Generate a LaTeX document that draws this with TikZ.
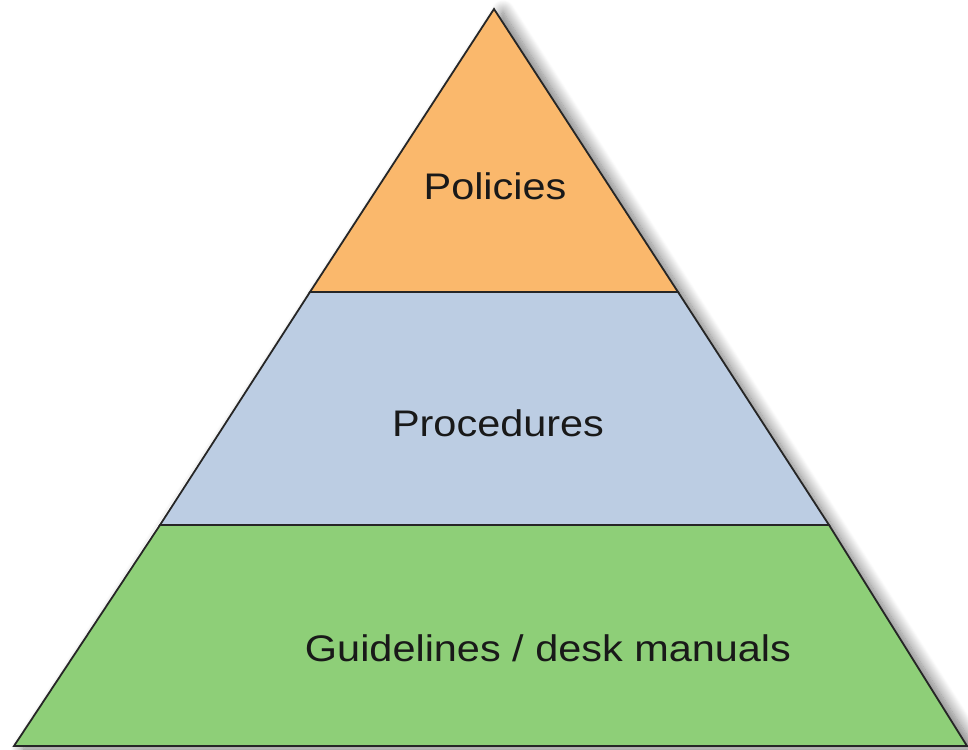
\documentclass[tikz,border=0pt]{standalone}
\usepackage{fontspec}
\setmainfont{Liberation Sans}
\usetikzlibrary{shadows.blur}
\definecolor{tierorange}{HTML}{FAB86C}
\definecolor{tierblue}{HTML}{BCCDE3}
\definecolor{tiergreen}{HTML}{8ECF78}
\begin{document}
\begin{tikzpicture}[x=1pt,y=-1pt,
  tier/.style={draw=black!85,line width=1.8pt,line join=miter},
  lbl/.style={font=\fontsize{37}{42}\selectfont,text=black!90,inner sep=0pt,xscale=1.12}]
\useasboundingbox (0,0) rectangle (968,749);
\coordinate (A) at (494,9);
\coordinate (BL) at (14,746);
\coordinate (BR) at (967,746);
\coordinate (L1) at (310,292);
\coordinate (R1) at (678,292);
\coordinate (L2) at (160,525);
\coordinate (R2) at (829,525);
% shadow
\fill[white,blur shadow={shadow xshift=9pt,shadow yshift=-3pt,shadow blur radius=12pt,shadow blur steps=14,shadow opacity=55}] (A) -- (BR) -- (BL) -- cycle;
\filldraw[tier,fill=tiergreen] (L2) -- (R2) -- (BR) -- (BL) -- cycle;
\filldraw[tier,fill=tierblue] (L1) -- (R1) -- (R2) -- (L2) -- cycle;
\filldraw[tier,fill=tierorange] (A) -- (R1) -- (L1) -- cycle;
\node[lbl] (pol) at (495,186) {Policies};
\node[lbl] (proc) at (498,423) {Procedures};
\node[lbl] (guide) at (548,648) {Guidelines / desk manuals};
\end{tikzpicture}
\end{document}
